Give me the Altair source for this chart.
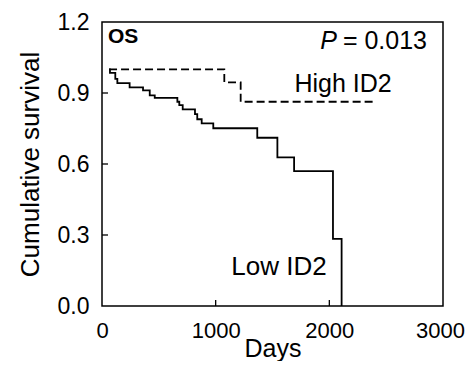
import altair as alt
import pandas as pd

# Kaplan-Meier steps
low_days = [62, 70, 117, 135, 243, 361, 420, 464, 663, 680, 710, 818, 838, 877, 979, 1366, 1543, 1690, 2032, 2108]
low_surv = [1.0, 0.985, 0.960, 0.942, 0.924, 0.911, 0.890, 0.879, 0.863, 0.849, 0.831, 0.811, 0.789, 0.772, 0.751, 0.711, 0.628, 0.570, 0.284, 0.0]
high_days = [62, 1076, 1220, 2383]
high_surv = [1.0, 0.945, 0.863, 0.863]

x_ticks = [0, 1000, 2000, 3000]
y_ticks = [0.0, 0.3, 0.6, 0.9, 1.2]
inner_x_ticks = [1000, 2000]
inner_y_ticks = [0.3, 0.6, 0.9]

FONT = "Liberation Sans"

df = pd.DataFrame(
    {"days": low_days + high_days,
     "surv": low_surv + high_surv,
     "group": ["Low ID2"] * len(low_days) + ["High ID2"] * len(high_days),
     "order": list(range(len(low_days))) + list(range(len(high_days)))}
)

xscale = alt.Scale(domain=[0, 3000], nice=False, zero=False)
yscale = alt.Scale(domain=[0, 1.2], nice=False, zero=False)

xaxis = alt.Axis(values=x_ticks, format="d", title="Days", grid=False, ticks=False, domain=False,
                 labelFont=FONT, labelFontSize=22, labelColor="black", labelPadding=14,
                 labelOffset=alt.condition("datum.value == 3000", alt.value(-3), alt.value(0)),
                 titleFont=FONT, titleFontSize=25, titleFontWeight="normal", titleColor="black",
                 titleBaseline="alphabetic", titleY=50, labelFlush=False)
yaxis = alt.Axis(values=y_ticks, format=".1f", title="Cumulative survival", grid=False, ticks=False,
                 domain=False, labelFont=FONT, labelFontSize=23, labelColor="black", labelPadding=13,
                 titleFont=FONT, titleFontSize=26, titleFontWeight="normal", titleColor="black",
                 titleBaseline="alphabetic", titleX=-64, titleY=142, titleAngle=-90, titleAlign="center",
                 labelFlush=False)

base = alt.Chart(df)

lines = base.mark_line(interpolate="step-after", color="black", strokeWidth=1.8).encode(
    x=alt.X("days:Q", scale=xscale, axis=xaxis),
    y=alt.Y("surv:Q", scale=yscale, axis=yaxis),
    detail="group:N",
    order="order:Q",
    strokeDash=alt.StrokeDash("group:N", scale=alt.Scale(domain=["Low ID2", "High ID2"], range=[[1, 0], [8, 4]]), legend=None),
)

ytk = alt.Chart(pd.DataFrame({"v": inner_y_ticks})).mark_rule(color="black", strokeWidth=1.3).encode(
    y=alt.Y("v:Q", scale=yscale), x=alt.value(0), x2=alt.value(6))
xtk = alt.Chart(pd.DataFrame({"v": inner_x_ticks})).mark_rule(color="black", strokeWidth=1.3).encode(
    x=alt.X("v:Q", scale=xscale), y=alt.value(284), y2=alt.value(278))

def txt(s, x, y, size, align="left", weight="normal", style="normal"):
    return alt.Chart(pd.DataFrame({"t": [s]})).mark_text(
        font=FONT, fontSize=size, align=align, baseline="alphabetic", fontWeight=weight,
        fontStyle=style, color="black").encode(text="t:N", x=alt.value(x), y=alt.value(y))

labels = (txt("OS", 6, 21, 21, weight="bold")
          + txt("= 0.013", 325, 27, 25, align="right")
          + txt("P", 235, 27, 25, align="right", style="italic")
          + txt("High ID2", 241, 70, 25, align="center")
          + txt("Low ID2", 177, 253, 26, align="center"))

chart = alt.layer(lines, ytk, xtk, labels).properties(
    width=341, height=284,
    autosize=alt.AutoSizeParams(type="none"),
    padding={"left": 94, "top": 14, "right": 22, "bottom": 55},
    background="white",
).configure_view(stroke="black", strokeWidth=1.5)

chart.save("out.html", embed_options={"renderer": "svg", "actions": False})
